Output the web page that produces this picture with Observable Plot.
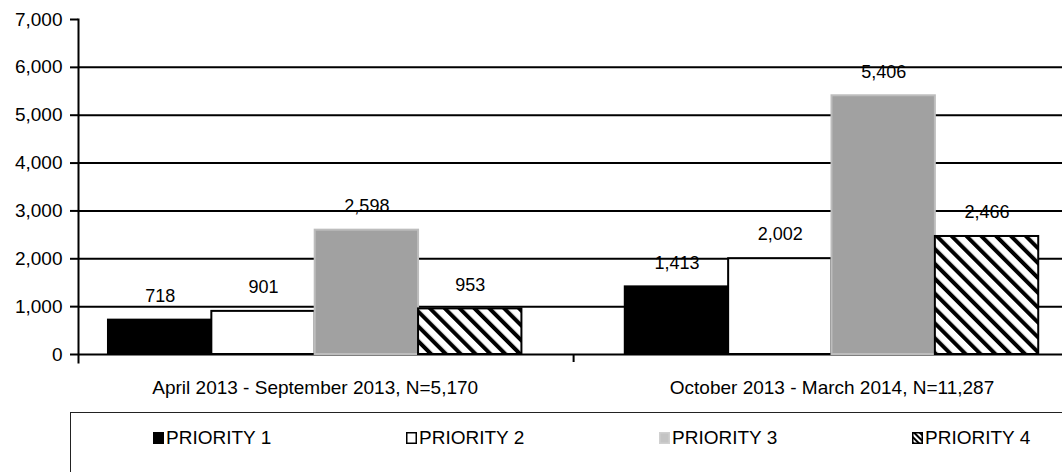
<!DOCTYPE html>
<html><head><meta charset="utf-8">
<script src="https://cdn.jsdelivr.net/npm/d3@7"></script>
<script src="https://cdn.jsdelivr.net/npm/@observablehq/plot@0.6"></script>
<style>
html,body{margin:0;padding:0;background:#fff;overflow:hidden;width:1062px;height:472px;}
body{font-family:"Liberation Sans",Arial,sans-serif;position:relative;color:#000;}
#legend{position:absolute;left:70px;top:412px;width:1010px;height:64px;border:1.5px solid #222;box-sizing:border-box;}
.item{position:absolute;top:14px;font-size:19px;display:flex;align-items:center;white-space:nowrap;}
.item svg{margin-right:2px;}
</style></head><body>
<svg width="0" height="0" style="position:absolute">
<defs><pattern id="hatch" patternUnits="userSpaceOnUse" width="10.5" height="10.5" patternTransform="rotate(-45)"><rect width="10.5" height="10.5" fill="#fff"/><rect width="4" height="10.5" fill="#000"/></pattern>
<pattern id="hatchSmall" patternUnits="userSpaceOnUse" width="4" height="4" patternTransform="rotate(-45)"><rect width="4" height="4" fill="#fff"/><rect width="2" height="4" fill="#000"/></pattern></defs></svg>
<div id="chart"></div>
<div id="legend"></div>
<script>
const periods = ["April 2013 - September 2013, N=5,170", "October 2013 - March 2014, N=11,287"];
const priorities = ["PRIORITY 1", "PRIORITY 2", "PRIORITY 3", "PRIORITY 4"];
const valuesAprSep2013 = [718, 901, 2598, 953];
const valuesOct2013Mar2014 = [1413, 2002, 5406, 2466];
const yTicks = [0, 1000, 2000, 3000, 4000, 5000, 6000, 7000];
const fills = ["#000", "#fff", "#a1a1a1", "url(#hatch)"];
const legendFills = ["#000", "#fff", "#c4c4c4", "url(#hatchSmall)"];
const strokes = ["#000", "#000", "#bdbdbd", "#000"];

const seriesByPeriod = [valuesAprSep2013, valuesOct2013Mar2014];
const groupSize = priorities.length + 1;
const data = [];
periods.forEach((p, i) => priorities.forEach((q, j) => {
  data.push({period: p, priority: q, value: seriesByPeriod[i][j], slot: i * groupSize + j, j});
}));
const groupCenters = periods.map((p, i) => ({period: p, x: i * groupSize + priorities.length / 2}));
const boundaries = periods.slice(1).map((p, i) => (i + 1) * groupSize - 0.5);
const fmt = d3.format(",");

const chart = Plot.plot({
  width: 1062,
  height: 400,
  marginLeft: 78,
  marginRight: 0,
  marginTop: 19,
  marginBottom: 46,
  style: {fontFamily: "'Liberation Sans', Arial, sans-serif", fontSize: "19px", color: "#000", background: "#fff", overflow: "visible"},
  x: {type: "linear", domain: [-0.29, 9.23], axis: null},
  y: {domain: [0, 7000]},
  color: {type: "ordinal", domain: priorities, range: fills},
  marks: [
    Plot.ruleY(yTicks.filter(v => v < 7000), {stroke: "#000", strokeWidth: 2}),
    Plot.rectY(data, {
      x1: "slot", x2: d => d.slot + 1, y1: 0, y2: "value",
      fill: "priority",
      stroke: {value: d => strokes[d.j], scale: null},
      strokeWidth: 2
    }),
    Plot.text(data, {x: d => d.slot + 0.5, y: "value", text: d => fmt(d.value), dy: -24, fontSize: 18}),
    Plot.text(groupCenters, {x: "x", y: 0, text: "period", dy: 33, fontSize: 19}),
    Plot.frame({anchor: "left", insetBottom: -8, stroke: "#000", strokeWidth: 2}),
    Plot.ruleX(boundaries, {x: d => d, y1: 0, y2: 0, insetBottom: -8, stroke: "#000", strokeWidth: 2}),
    Plot.axisY(yTicks, {label: null, tickSize: 8, tickPadding: 8, tickFormat: fmt, fontSize: 19, strokeWidth: 2})
  ]
});
document.getElementById("chart").appendChild(chart);

const legend = document.getElementById("legend");
priorities.forEach((q, j) => {
  const item = document.createElement("div");
  item.className = "item";
  item.style.left = (82 + j * 253) + "px";
  item.innerHTML = `<svg width="11" height="12"><rect x="0.75" y="0.75" width="9.5" height="10.5" fill="${legendFills[j]}" stroke="${j === 2 ? '#d0d0d0' : '#000'}" stroke-width="1.5"/></svg><span>${q}</span>`;
  legend.appendChild(item);
});
</script>
</body></html>
